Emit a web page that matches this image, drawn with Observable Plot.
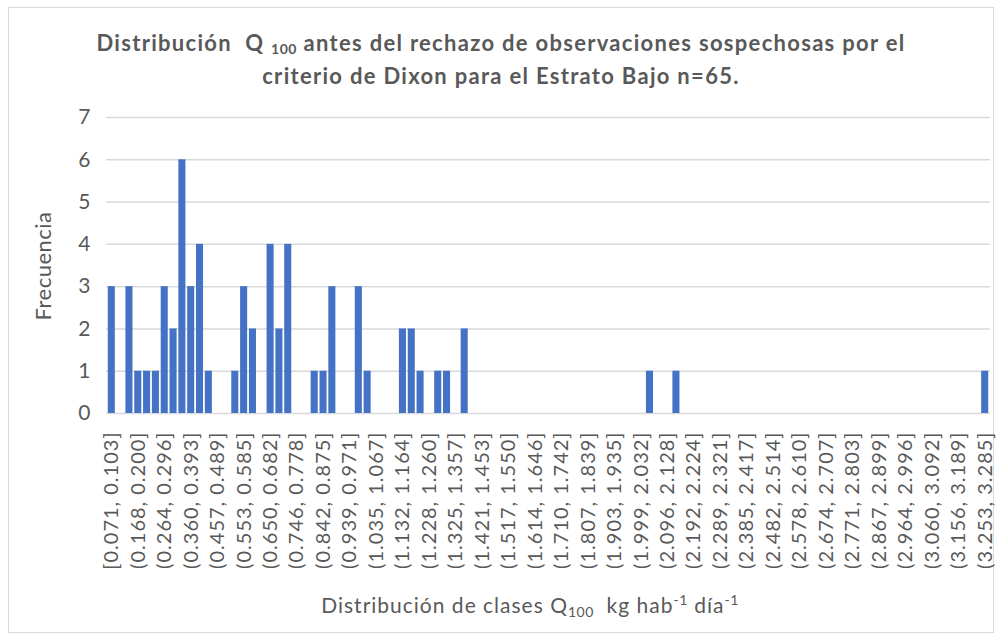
<!DOCTYPE html>
<html>
<head>
<meta charset="utf-8">
<script src="https://cdn.jsdelivr.net/npm/d3@7"></script>
<script src="https://cdn.jsdelivr.net/npm/@observablehq/plot@0.6"></script>
<style>
  html, body { margin: 0; padding: 0; background: #fff; }
  #wrap { position: relative; width: 1002px; height: 641px; overflow: hidden; background: #fff; font-family: Lato, "Open Sans", sans-serif; color: #595959; }
  #frame { position: absolute; left: 8px; top: 7px; width: 986px; height: 626px; border: 1px solid #d9d9d9; box-sizing: border-box; }
  #title { position: absolute; left: 0; top: 26px; width: 1002px; text-align: center; font-weight: bold; font-size: 22px; letter-spacing: 1.3px; line-height: 33px; color: #595959; }
  #title sub { font-size: 14px; vertical-align: -3px; line-height: 0; letter-spacing: 0.5px; }
  #chart { position: absolute; left: 0; top: 100px; }
  #ylabel { position: absolute; left: 42px; top: 266px; transform: translate(-50%, -50%) rotate(-90deg); font-size: 22px; letter-spacing: 0.5px; white-space: nowrap; }
  #xlabel { position: absolute; left: 530px; top: 592px; transform: translateX(-50%); font-size: 21px; letter-spacing: 1px; white-space: nowrap; }
  #xlabel sub { font-size: 14px; vertical-align: -4px; line-height: 0; letter-spacing: 0.5px; }
  #xlabel sup { font-size: 14px; vertical-align: 8px; line-height: 0; letter-spacing: 0.5px; }
</style>
</head>
<body>
<div id="wrap">
  <div id="frame"></div>
  <div id="title">Distribución&nbsp; Q <sub>100</sub> antes del rechazo de observaciones sospechosas por el<br>criterio de Dixon para el Estrato Bajo n=65.</div>
  <div id="chart"></div>
  <div id="ylabel">Frecuencia</div>
  <div id="xlabel">Distribución de clases Q<sub>100</sub>&nbsp; kg hab<sup>-1</sup> día<sup>-1</sup></div>
</div>
<script>
// Frequency per class (100 classes of width ~0.0322 from 0.071 to 3.285)
const counts = [
  3, 0, 3, 1, 1, 1, 3, 2, 6, 3,
  4, 1, 0, 0, 1, 3, 2, 0, 4, 2,
  4, 0, 0, 1, 1, 3, 0, 0, 3, 1,
  0, 0, 0, 2, 2, 1, 0, 1, 1, 0,
  2, 0, 0, 0, 0, 0, 0, 0, 0, 0,
  0, 0, 0, 0, 0, 0, 0, 0, 0, 0,
  0, 1, 0, 0, 1, 0, 0, 0, 0, 0,
  0, 0, 0, 0, 0, 0, 0, 0, 0, 0,
  0, 0, 0, 0, 0, 0, 0, 0, 0, 0,
  0, 0, 0, 0, 0, 0, 0, 0, 0, 1
];
// Labels shown on the axis (every third class)
const tickLabels = [
  "[0.071, 0.103]", "(0.168, 0.200]", "(0.264, 0.296]", "(0.360, 0.393]", "(0.457, 0.489]",
  "(0.553, 0.585]", "(0.650, 0.682]", "(0.746, 0.778]", "(0.842, 0.875]", "(0.939, 0.971]",
  "(1.035, 1.067]", "(1.132, 1.164]", "(1.228, 1.260]", "(1.325, 1.357]", "(1.421, 1.453]",
  "(1.517, 1.550]", "(1.614, 1.646]", "(1.710, 1.742]", "(1.807, 1.839]", "(1.903, 1.935]",
  "(1.999, 2.032]", "(2.096, 2.128]", "(2.192, 2.224]", "(2.289, 2.321]", "(2.385, 2.417]",
  "(2.482, 2.514]", "(2.578, 2.610]", "(2.674, 2.707]", "(2.771, 2.803]", "(2.867, 2.899]",
  "(2.964, 2.996]", "(3.060, 3.092]", "(3.156, 3.189]", "(3.253, 3.285]"
];
const yTicks = [0, 1, 2, 3, 4, 5, 6, 7];

const bins = d3.range(counts.length);
const rows = bins.map(i => ({bin: i, count: counts[i]}));
const tickIdx = tickLabels.map((_, k) => k * 3);

const chart = Plot.plot({
  width: 1002,
  height: 490,
  marginLeft: 106,
  marginRight: 12,
  marginTop: 17,
  marginBottom: 177,
  style: {fontFamily: "Lato, 'Open Sans', sans-serif", fontSize: "18px", color: "#595959", background: "transparent", overflow: "visible"},
  x: {type: "band", domain: bins, padding: 0.2, align: 0.5},
  y: {domain: [0, 7]},
  marks: [
    Plot.gridY(yTicks, {stroke: "#d9d9d9", strokeOpacity: 1, strokeWidth: 1.5}),
    Plot.barY(rows, {x: "bin", y: "count", fill: "#4472C4"}),
    Plot.axisY({ticks: yTicks, tickFormat: d => String(d), tickSize: 0, tickPadding: 16, fontSize: 21, label: null}),
    Plot.axisX({ticks: tickIdx, tickFormat: i => tickLabels[i / 3], tickRotate: -90, tickSize: 0, tickPadding: 18, fontSize: 20, label: null})
  ]
});
// widen the rotated class labels slightly (Excel rendering is more spaced)
chart.querySelectorAll("g[aria-label='x-axis tick label'] text").forEach(t => t.setAttribute("letter-spacing", "1"));
document.getElementById("chart").appendChild(chart);
</script>
</body>
</html>
